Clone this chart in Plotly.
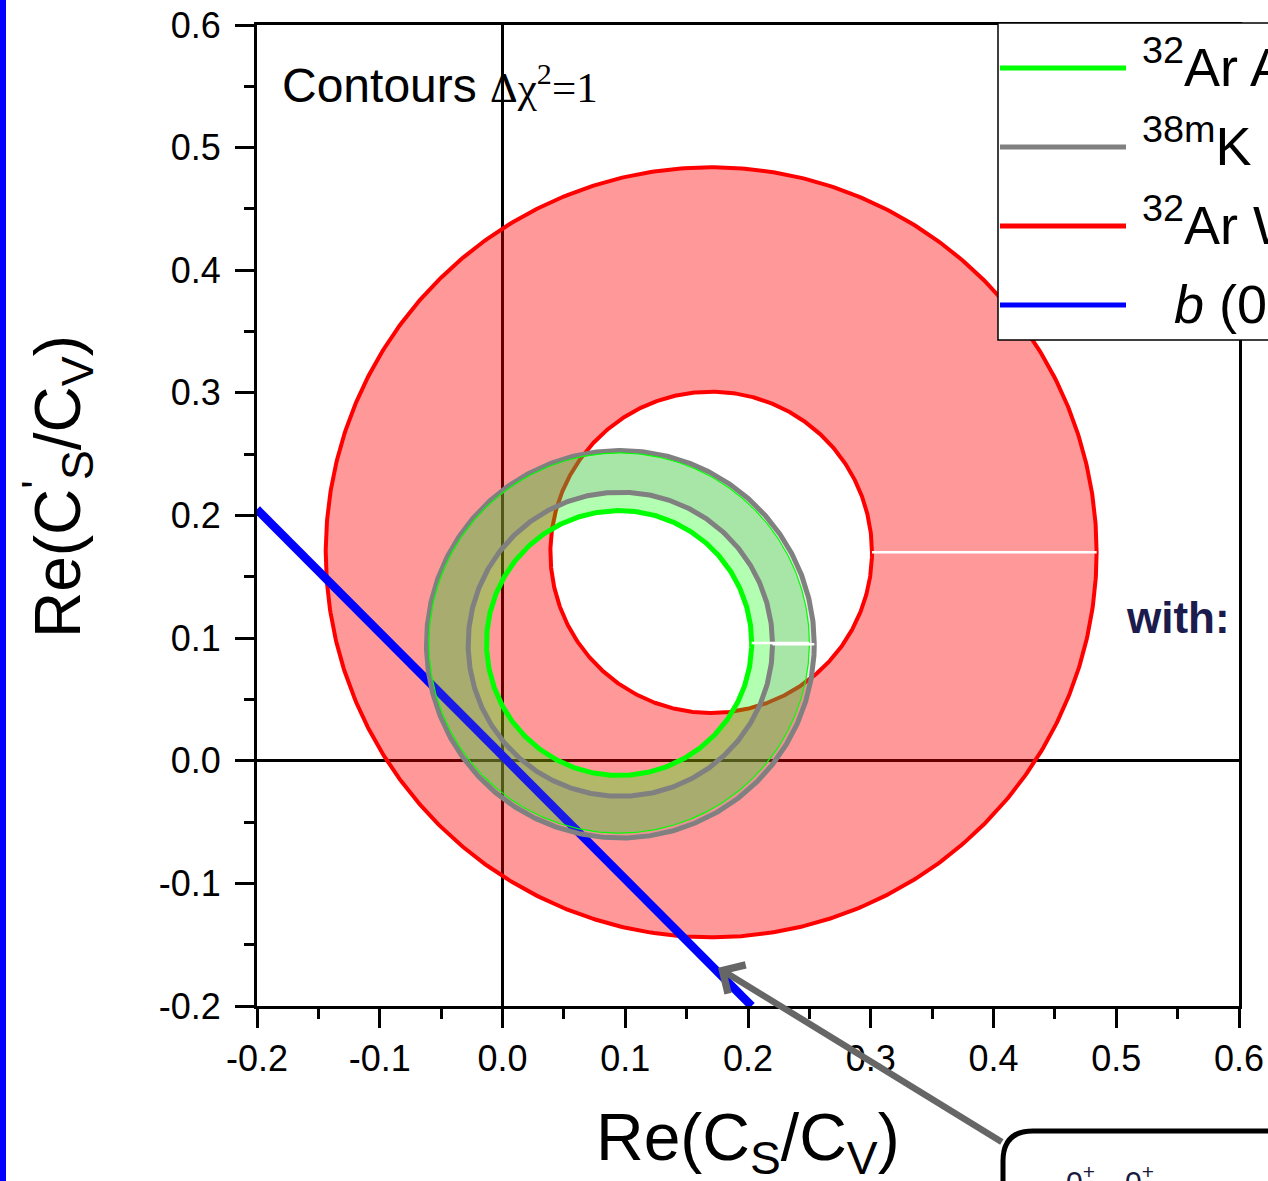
import numpy as np
import plotly.graph_objects as go

# ---- contour parameters (centre, inner radius, outer radius) ----
series_names = [
    "<sup>32</sup>Ar Adelberger",
    "<sup>38m</sup>K Gorelov",
    "<sup>32</sup>Ar WISArD",
    "<i>b</i> (0<sup>+</sup>→0<sup>+</sup>)",
]
red_center = [0.170, 0.170]
red_radii = [0.131, 0.314]
green_center = [0.095, 0.096]
green_radii = [0.108, 0.155]
gray_center = [0.096, 0.095]
gray_radii = [0.124, 0.158]

# Fierz-term band edge
b_x = [-0.2, 0.203]
b_y = [0.205, -0.2]

# axis ticks
tick_vals = [-0.2, -0.1, 0.0, 0.1, 0.2, 0.3, 0.4, 0.5, 0.6]
tick_text = ["-0.2", "-0.1", "0.0", "0.1", "0.2", "0.3", "0.4", "0.5", "0.6"]

FONT = "Liberation Sans, Arial, sans-serif"
W, H = 1268, 1181
ML, MR, MT, MB = 257, 29, 25, 175
PW, PH = W - ML - MR, H - MT - MB


def px(x):
    return (x - ML) / PW


def py(y):
    return (H - MB - y) / PH


theta = np.linspace(0, 2 * np.pi, 721)


def circle(c, r):
    return c[0] + r * np.cos(theta), c[1] + r * np.sin(theta)


def annulus(c, radii):
    xo, yo = circle(c, radii[1])
    xi, yi = circle(c, radii[0])
    return np.concatenate([xo, xi[::-1]]), np.concatenate([yo, yi[::-1]])


fig = go.Figure()


def add_fill(c, radii, color, name):
    x, y = annulus(c, radii)
    fig.add_trace(go.Scatter(x=x, y=y, mode="lines", fill="toself", fillcolor=color,
                             line=dict(width=0, color=color), name=name,
                             hoverinfo="skip", showlegend=False))


def add_ring(c, r, color, width, name):
    x, y = circle(c, r)
    fig.add_trace(go.Scatter(x=x, y=y, mode="lines", line=dict(color=color, width=width),
                             name=name, hoverinfo="skip", showlegend=False))


def add_seam(c, radii, name):
    fig.add_trace(go.Scatter(x=[c[0] + radii[0], c[0] + radii[1]], y=[c[1], c[1]],
                             mode="lines", line=dict(color="white", width=2.5),
                             name=name, hoverinfo="skip", showlegend=False))


# 32Ar WISArD band
add_fill(red_center, red_radii, "rgba(255,0,0,0.4)", series_names[2])
add_ring(red_center, red_radii[0], "#ff0000", 4, series_names[2])
add_ring(red_center, red_radii[1], "#ff0000", 4, series_names[2])
add_seam(red_center, red_radii, series_names[2])

# 32Ar band
add_fill(green_center, green_radii, "rgba(0,255,0,0.3)", series_names[0])

# b line
fig.add_trace(go.Scatter(x=b_x, y=b_y, mode="lines", line=dict(color="#0000ff", width=8.5),
                         name=series_names[3], hoverinfo="skip", showlegend=False))

# 38mK band
add_fill(gray_center, gray_radii, "rgba(128,128,128,0.2)", series_names[1])
add_ring(gray_center, gray_radii[0], "#808080", 5, series_names[1])
add_ring(gray_center, gray_radii[1], "#808080", 5, series_names[1])

add_ring(green_center, green_radii[1], "#00ff00", 1.2, series_names[0])
add_ring(green_center, green_radii[0], "#00ff00", 5, series_names[0])
add_seam(green_center, green_radii, series_names[0])
add_seam(gray_center, gray_radii, series_names[1])

axis_common = dict(
    range=[-0.2, 0.6], tickvals=tick_vals, ticktext=tick_text, automargin=False,
    showgrid=False, zeroline=True, zerolinecolor="black", zerolinewidth=2.5,
    showline=True, linecolor="black", linewidth=3, mirror=True,
    ticks="outside", ticklen=19, tickwidth=3, tickcolor="black",
    minor=dict(dtick=0.05, ticks="outside", ticklen=10, tickwidth=3, tickcolor="black"),
    tickfont=dict(family=FONT, size=36, color="black"),
)
fig.update_xaxes(**axis_common, ticklabelstandoff=0)
fig.update_yaxes(**axis_common, ticklabelstandoff=7)

shapes = []
annotations = []

# left page strip
shapes.append(dict(type="rect", xref="paper", yref="paper", x0=px(0), x1=px(6),
                   y0=py(H), y1=py(0), fillcolor="#0000ff", line=dict(width=0), layer="above"))

# legend box
shapes.append(dict(type="rect", xref="paper", yref="paper", x0=px(998), x1=px(1320),
                   y0=py(340), y1=py(23), fillcolor="white",
                   line=dict(color="black", width=1.5), layer="above"))
legend_colors = ["#00ff00", "#808080", "#ff0000", "#0000ff"]
legend_rows = [68, 147, 226, 305]
legend_text_x = [1140, 1140, 1140, 1172]
for name, color, ry, tx in zip(series_names, legend_colors, legend_rows, legend_text_x):
    shapes.append(dict(type="line", xref="paper", yref="paper", x0=px(1000), x1=px(1126),
                       y0=py(ry), y1=py(ry), line=dict(color=color, width=5), layer="above"))
    annotations.append(dict(xref="paper", yref="paper", x=px(tx), y=py(ry - 5),
                            xanchor="left", yanchor="middle", text=name, showarrow=False,
                            font=dict(family=FONT, size=54, color="black")))

# callout box
bx0, by0, rad = 1003, 1131, 30
box_path = (f"M {px(bx0)},{py(1260)} L {px(bx0)},{py(by0 + rad)} "
            f"Q {px(bx0)},{py(by0)} {px(bx0 + rad)},{py(by0)} "
            f"L {px(1330)},{py(by0)} L {px(1330)},{py(1260)} Z")
shapes.append(dict(type="path", xref="paper", yref="paper", path=box_path,
                   fillcolor="white", line=dict(color="black", width=5), layer="above"))
annotations.append(dict(xref="paper", yref="paper", x=px(1064), y=py(1158),
                        xanchor="left", yanchor="top",
                        text="0<sup>+</sup>→0<sup>+</sup>", showarrow=False,
                        font=dict(family=FONT, size=30, color="#1a1a40")))

# arrow from the callout to the end of the b line
annotations.append(dict(x=0.1756, y=-0.1688, xref="x", yref="y",
                        ax=0.408, ay=-0.3116, axref="x", ayref="y",
                        text="", showarrow=True, arrowhead=4, arrowsize=1,
                        arrowwidth=6.5, arrowcolor="#666666", standoff=0))

# text labels
annotations.append(dict(xref="paper", yref="paper", x=px(280), y=py(84),
                        xanchor="left", yanchor="middle", showarrow=False,
                        text="Contours <span style='font-family:Liberation Serif, Times New Roman, serif;font-size:43px'>Δχ<sup>2</sup>=1</span>",
                        font=dict(family=FONT, size=48, color="black")))
annotations.append(dict(xref="paper", yref="paper", x=px(1124), y=py(617),
                        xanchor="left", yanchor="middle", showarrow=False,
                        text="<b>with:</b>",
                        font=dict(family=FONT, size=44, color="#1b1b4d")))

# axis titles
annotations.append(dict(xref="paper", yref="paper", x=px(748), y=py(1142),
                        xanchor="center", yanchor="middle", showarrow=False,
                        text="Re(C<sub>S</sub>/C<sub>V</sub>)",
                        font=dict(family=FONT, size=66, color="black")))
annotations.append(dict(xref="paper", yref="paper", x=px(57), y=py(487),
                        xanchor="center", yanchor="middle", showarrow=False, textangle=-90,
                        text="Re(C<sup>'</sup><sub>S</sub>/C<sub>V</sub>)",
                        font=dict(family=FONT, size=64, color="black")))

fig.update_layout(
    width=W, height=H,
    margin=dict(l=ML, r=MR, t=MT, b=MB, pad=0, autoexpand=False),
    paper_bgcolor="white", plot_bgcolor="white",
    showlegend=False,
    shapes=shapes, annotations=annotations,
)

fig.write_html("out.html")
